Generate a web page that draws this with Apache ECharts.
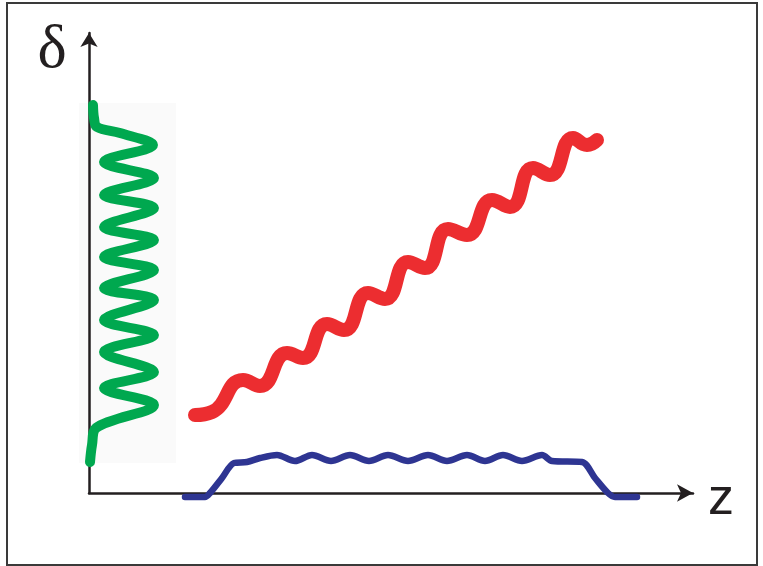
<!DOCTYPE html>
<html>
<head>
<meta charset="utf-8">
<style>
  html, body { margin: 0; padding: 0; background: #ffffff; }
  #chart { width: 763px; height: 566px; }
</style>
<script src="https://cdn.jsdelivr.net/npm/echarts@6/dist/echarts.min.js"></script>
</head>
<body>
<div id="chart"></div>
<script>
// Axis extents (z horizontal, δ vertical), in drawing units
const zMax = 604;
const deltaMax = 460;

// Green: transverse oscillation hugging the δ axis, as [z, δ] pairs
const greenProfile = [
  [4, 388], [5, 375], [8, 366], [31, 360],
  [64, 348], [15, 331], [65, 315], [15, 298], [65, 285], [15, 266],
  [65, 253], [15, 236], [65, 223], [15, 205], [65, 193], [15, 173],
  [65, 158], [15, 141], [65, 121], [15, 105], [65, 88],
  [7, 65], [3, 48], [1, 31]
];

// Red: rising wavy track (crest / trough pairs), as [z, δ] pairs
const redTrack = [
  [106, 78], [123, 81],
  [154, 113], [171, 107],
  [198, 140], [214, 135],
  [238, 169], [255, 163],
  [279, 200], [296, 194],
  [319, 231], [336, 225],
  [359, 264], [378, 258],
  [403, 293], [421, 286],
  [444, 325], [461, 318],
  [484, 355], [498, 348], [508, 353]
];

// Blue: flat-topped envelope with small ripples, as [z, δ] pairs
const blueEnvelope = [
  [96, -4], [116, -4], [121, 0], [133, 15], [145, 30], [158, 31],
  [171, 35], [188, 38], [206, 32], [223, 38], [242, 32], [261, 38],
  [280, 32], [299, 38], [319, 32], [339, 38], [358, 32], [378, 38],
  [396, 32], [414, 38], [433, 32], [453, 38], [463, 32], [493, 31],
  [506, 15], [519, 0], [526, -4], [548, -4]
];

// Axis captions
const zLabel = 'z';
const deltaLabel = 'δ';

const chart = echarts.init(document.getElementById('chart'), null, { renderer: 'canvas' });

const axisLineStyle = { color: '#231f20', width: 2.5 };

function curve(data, color, width, smooth) {
  return {
    type: 'line',
    data: data,
    smooth: smooth,
    showSymbol: false,
    clip: false,
    silent: true,
    lineStyle: { color: color, width: width, cap: 'round', join: 'round' }
  };
}

chart.setOption({
  animation: false,
  backgroundColor: '#ffffff',
  grid: { left: 89, right: 70, top: 33, bottom: 73 },
  xAxis: {
    type: 'value', min: 0, max: zMax,
    axisLine: { show: true, lineStyle: axisLineStyle, symbol: ['none', 'arrow'], symbolSize: [13, 16] },
    axisTick: { show: false }, axisLabel: { show: false }, splitLine: { show: false }
  },
  yAxis: {
    type: 'value', min: 0, max: deltaMax,
    axisLine: { show: true, lineStyle: axisLineStyle, symbol: ['none', 'arrow'], symbolSize: [13, 14] },
    axisTick: { show: false }, axisLabel: { show: false }, splitLine: { show: false }
  },
  graphic: [
    {
      type: 'rect', z: -10, silent: true,
      shape: { x: 79, y: 103, width: 97, height: 360 },
      style: { fill: '#fafafa' }
    },
    {
      type: 'rect', z: -5, silent: true,
      shape: { x: 7, y: 3, width: 750, height: 562 },
      style: { fill: 'none', stroke: '#3a3a3a', lineWidth: 2 }
    },
    {
      type: 'text', silent: true, x: 52, y: 20,
      style: { text: deltaLabel, font: '62px "Liberation Serif", serif', fill: '#231f20', align: 'center', verticalAlign: 'top' }
    },
    {
      type: 'text', silent: true, x: 721, y: 474,
      style: { text: zLabel, font: '52px "Liberation Sans", Arial, sans-serif', fill: '#231f20', align: 'center', verticalAlign: 'top' }
    }
  ],
  series: [
    curve(blueEnvelope, '#2e3592', 6.5, 0.3),
    curve(greenProfile, '#00a84f', 10, 0.35),
    curve(redTrack, '#ec2d30', 14, 0.5)
  ]
});
</script>
</body>
</html>
